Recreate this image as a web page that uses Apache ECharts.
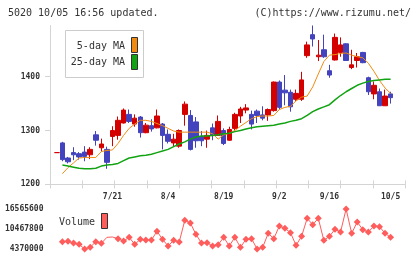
<!DOCTYPE html>
<html>
<head>
<meta charset="utf-8">
<script src="https://cdn.jsdelivr.net/npm/echarts@6/dist/echarts.min.js"></script>
<style>
  html, body { margin: 0; padding: 0; background: #fff; }
  #chart { width: 420px; height: 259px; }
</style>
</head>
<body>
<div id="chart"></div>
<script>
// one entry per trading day
const opens  = [1259,1277,1249,1259,1257,1260,1255,1292,1268,1265,1289,1291,1314,1330,1312,1325,1296,1309,1305,1312,1293,1277,1271,1330,1328,1316,1289,1284,1305,1291,1300,1282,1304,1327,1338,1330,1336,1329,1329,1337,1390,1375,1371,1358,1358,1439,1478,1437,1450,1411,1431,1445,1461,1417,1430,1445,1398,1368,1372,1346,1368];
const closes = [1259,1246,1242,1255,1251,1252,1265,1282,1275,1241,1300,1319,1338,1317,1323,1296,1310,1303,1327,1291,1280,1284,1300,1349,1265,1281,1281,1291,1291,1317,1276,1302,1330,1340,1342,1312,1328,1323,1339,1390,1343,1370,1344,1369,1394,1459,1470,1440,1437,1403,1473,1459,1430,1422,1437,1426,1372,1384,1346,1364,1361];
const lows   = [1259,1243,1239,1245,1246,1243,1247,1272,1261,1229,1271,1283,1313,1314,1307,1287,1295,1298,1304,1265,1276,1270,1268,1309,1263,1268,1271,1268,1282,1290,1273,1281,1300,1314,1332,1302,1314,1319,1318,1335,1339,1347,1335,1355,1355,1435,1456,1429,1435,1398,1430,1437,1430,1414,1417,1425,1366,1358,1346,1346,1350];
const highs  = [1259,1279,1251,1269,1260,1271,1269,1299,1285,1270,1308,1326,1341,1339,1330,1327,1314,1321,1339,1314,1302,1294,1302,1354,1338,1325,1299,1300,1313,1328,1304,1307,1333,1344,1349,1337,1339,1345,1341,1391,1393,1403,1376,1376,1409,1465,1495,1468,1478,1422,1480,1473,1462,1450,1444,1446,1400,1391,1378,1376,1372];

const ma5  = [null,1220,1231,1240,1249,1250,1250,1250,1261,1263,1264,1276,1291,1304,1312,1319,1319,1317,1313,1309,1304,1299,1297,1297,1297,1297,1297,1297,1294,1284,1292,1295,1300,1308,1315,1322,1326,1327,1327,1328,1339,1343,1345,1355,1362,1364,1381,1405,1428,1440,1441,1443,1444,1440,1437,1435,1425,1410,1393,1379,1369];
const ma25 = [null,1236,1234,1232,1230,1229,1229,1230,1234,1236,1237,1239,1244,1249,1251,1253,1254,1256,1259,1262,1265,1270,1275,1279,1284,1288,1290,1290,1291,1292,1294,1295,1298,1300,1303,1305,1307,1308,1309,1310,1312,1314,1317,1319,1322,1328,1335,1340,1344,1348,1357,1365,1372,1378,1384,1388,1391,1393,1394,1395,1395];

const volumes = [null,6610000,6710000,6200000,5790000,4370000,4880000,6610000,6100000,7930000,8030000,7520000,6810000,7930000,5790000,7320000,7110000,7110000,9760000,7320000,5280000,7010000,6500000,13110000,12300000,8840000,6200000,6300000,5280000,5690000,7930000,5280000,7930000,4880000,7320000,7520000,4370000,4880000,9150000,7520000,11380000,10670000,9350000,5490000,8230000,13720000,11790000,13720000,7010000,8230000,10370000,9550000,16565600,9150000,12600000,10260000,9550000,11380000,11180000,9150000,7930000];
const volNoMark = [9, 10];

const dateLabels = ['7/21', '8/4', '8/19', '9/2', '9/16', '10/5'];
const dateLabelIdx = [10, 20, 30, 40, 49, 60];
const priceTicks = [1200, 1300, 1400];
const volumeTicks = [4370000, 10467800, 16565600];

const PAD_BEFORE = 1, PAD_AFTER = 2;
const slots = opens.length + PAD_BEFORE + PAD_AFTER;
const cats = [];
for (let i = 0; i < slots; i++) cats.push('');
dateLabelIdx.forEach((d, k) => { cats[d + PAD_BEFORE] = dateLabels[k]; });

function pad(arr, empty) {
  const out = [];
  for (let i = 0; i < PAD_BEFORE; i++) out.push(empty);
  arr.forEach(v => out.push(v));
  for (let i = 0; i < PAD_AFTER; i++) out.push(empty);
  return out;
}

const candles = pad(opens.map((o, i) => [o, closes[i], lows[i], highs[i]]), ['-', '-', '-', '-']);
const volData = pad(volumes.map((v, i) => volNoMark.indexOf(i) >= 0 ? { value: v, symbolSize: 0 } : v), null);

const MONO = '"DejaVu Sans Mono", monospace';
const AXIS = '#d4d4d4';
const RED = '#d40000', BLUE = '#4343bd';
const ORANGE = '#f08a10', GREEN = '#12a312', VOL = '#ff5c5c';

const tickLabel = { fontFamily: MONO, fontSize: 8, fontWeight: 'bold', color: '#333' };

const chart = echarts.init(document.getElementById('chart'), null, { renderer: 'canvas' });
chart.setOption({
  animation: false,
  grid: [
    { left: 48.5, right: 15.5, top: 25.5, bottom: 74.6 },
    { left: 50, right: 14.7, top: 25.5, bottom: 74.6 },
    { left: 48.5, right: 15.5, top: 209, bottom: 10 }
  ],
  xAxis: [
    {
      gridIndex: 0, type: 'category', data: cats, boundaryGap: true,
      axisLine: { show: false }, axisTick: { show: false }, splitLine: { show: false },
      axisLabel: Object.assign({ interval: (i, v) => v !== '', margin: 9 }, tickLabel)
    },
    {
      gridIndex: 1, type: 'value', min: 0, max: 11, interval: 1, position: 'bottom', offset: 0,
      axisLine: { show: true, lineStyle: { color: AXIS } },
      axisTick: { show: true, inside: true, length: 4, lineStyle: { color: AXIS } },
      axisLabel: { show: false }, splitLine: { show: false }
    },
    {
      gridIndex: 1, type: 'value', min: 0, max: 11, interval: 1, position: 'bottom', offset: 0,
      axisLine: { show: false },
      axisTick: { show: true, inside: false, length: 4, lineStyle: { color: AXIS } },
      axisLabel: { show: false }, splitLine: { show: false }
    },
    { gridIndex: 2, type: 'category', data: cats, boundaryGap: true, show: false }
  ],
  yAxis: [
    { gridIndex: 0, type: 'value', min: 1200, max: 1495, show: false, splitLine: { show: false } },
    {
      gridIndex: 1, type: 'value', min: 1200, max: 1495,
      axisLine: { show: true, lineStyle: { color: AXIS } },
      axisTick: { show: true, length: 5, customValues: priceTicks, lineStyle: { color: AXIS } },
      axisLabel: Object.assign({ customValues: priceTicks, margin: 10, formatter: v => String(v) }, tickLabel),
      splitLine: { show: false }
    },
    {
      gridIndex: 2, type: 'value', min: volumeTicks[0], max: volumeTicks[2],
      axisLine: { show: false }, axisTick: { show: false }, splitLine: { show: false },
      axisLabel: Object.assign({ customValues: volumeTicks, margin: 5, formatter: v => String(v) }, tickLabel)
    }
  ],
  series: [
    {
      type: 'candlestick', xAxisIndex: 0, yAxisIndex: 0, data: candles, barWidth: 5,
      itemStyle: { color: RED, color0: BLUE, borderColor: RED, borderColor0: BLUE, borderColorDoji: RED, borderWidth: 1 }
    },
    {
      type: 'line', xAxisIndex: 0, yAxisIndex: 0, data: pad(ma5, null), symbol: 'none',
      lineStyle: { color: ORANGE, width: 1 }
    },
    {
      type: 'line', xAxisIndex: 0, yAxisIndex: 0, data: pad(ma25, null), symbol: 'none',
      lineStyle: { color: GREEN, width: 1.5 }
    },
    {
      type: 'line', xAxisIndex: 3, yAxisIndex: 2, data: volData, symbol: 'diamond', symbolSize: 7,
      showAllSymbol: true,
      itemStyle: { color: VOL }, lineStyle: { color: VOL, width: 1 }
    }
  ],
  graphic: [
    { type: 'text', x: 8, y: 13, style: { text: '5020 10/05 16:56 updated.', font: '10px ' + MONO, fill: '#333', align: 'left', verticalAlign: 'middle', textAlign: 'left', textVerticalAlign: 'middle' } },
    { type: 'text', x: 411, y: 13, style: { text: '(C)https://www.rizumu.net/', font: '10px ' + MONO, fill: '#333', align: 'right', verticalAlign: 'middle', textAlign: 'right', textVerticalAlign: 'middle' } },
    { type: 'rect', z: 10, shape: { x: 65.5, y: 30.5, width: 78, height: 47 }, style: { fill: '#fff', stroke: '#ccc', lineWidth: 1 } },
    { type: 'text', z: 11, x: 125, y: 46, style: { text: '5-day MA', font: '10px ' + MONO, fill: '#333', align: 'right', verticalAlign: 'middle', textAlign: 'right', textVerticalAlign: 'middle' } },
    { type: 'rect', z: 11, shape: { x: 131.5, y: 37.5, width: 6, height: 15 }, style: { fill: ORANGE, stroke: '#333', lineWidth: 1 } },
    { type: 'text', z: 11, x: 125, y: 62, style: { text: '25-day MA', font: '10px ' + MONO, fill: '#333', align: 'right', verticalAlign: 'middle', textAlign: 'right', textVerticalAlign: 'middle' } },
    { type: 'rect', z: 11, shape: { x: 131.5, y: 54.5, width: 6, height: 15 }, style: { fill: GREEN, stroke: '#333', lineWidth: 1 } },
    { type: 'text', z: 11, x: 59, y: 222, style: { text: 'Volume', font: '10px ' + MONO, fill: '#333', align: 'left', verticalAlign: 'middle', textAlign: 'left', textVerticalAlign: 'middle' } },
    { type: 'rect', z: 11, shape: { x: 101.5, y: 213.5, width: 6, height: 15 }, style: { fill: VOL, stroke: '#333', lineWidth: 1 } }
  ]
});
</script>
</body>
</html>
